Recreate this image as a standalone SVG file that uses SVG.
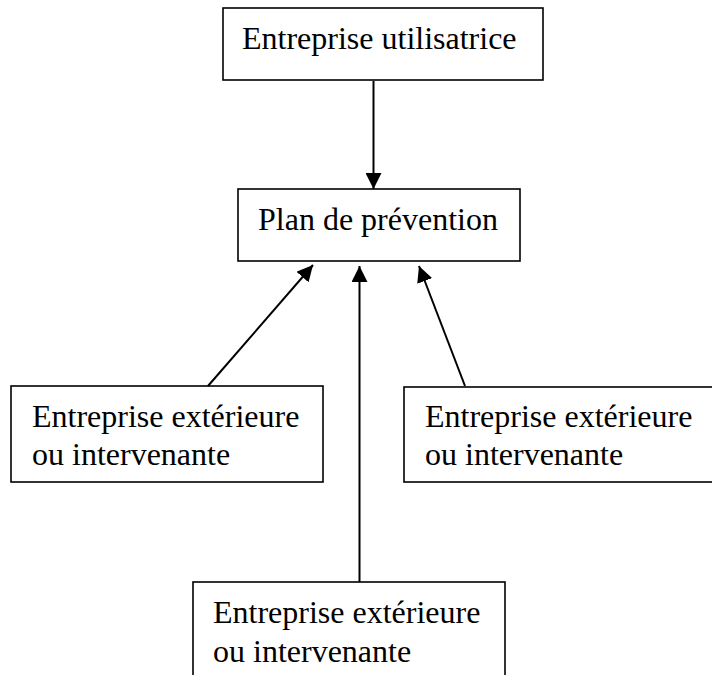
<svg xmlns="http://www.w3.org/2000/svg" width="712" height="675" viewBox="0 0 712 675">
<style>
.box{fill:#fff;stroke:#000;stroke-width:1.6}
.lbl{font-family:"Liberation Serif","Times New Roman",serif;font-size:32px;fill:#000}
.con{stroke:#000;stroke-width:2;fill:none}
</style>
<defs>
<marker id="ah" markerUnits="userSpaceOnUse" markerWidth="16" markerHeight="16" viewBox="0 0 16 16" refX="16" refY="8" orient="auto">
<path d="M0,0 L16,8 L0,16 Z" fill="#000"/>
</marker>
</defs>
<rect width="712" height="675" fill="#fff"/>
<g id="n-utilisatrice">
<rect class="box" x="223" y="8" width="320" height="72"/>
<text class="lbl" x="242" y="49">Entreprise utilisatrice</text>
</g>
<g id="n-plan">
<rect class="box" x="238" y="189" width="282" height="72"/>
<text class="lbl" x="258" y="230">Plan de prévention</text>
</g>
<g id="n-ext-left">
<rect class="box" x="11" y="386" width="312" height="96"/>
<text class="lbl" x="32" y="427">Entreprise extérieure</text>
<text class="lbl" x="32" y="465">ou intervenante</text>
</g>
<g id="n-ext-right">
<rect class="box" x="404" y="387" width="312" height="95"/>
<text class="lbl" x="425" y="427">Entreprise extérieure</text>
<text class="lbl" x="425" y="465">ou intervenante</text>
</g>
<g id="n-ext-bottom">
<rect class="box" x="193" y="582" width="312" height="100"/>
<text class="lbl" x="213" y="623">Entreprise extérieure</text>
<text class="lbl" x="213" y="662">ou intervenante</text>
</g>
<g id="connectors">
<line class="con" x1="373.5" y1="81" x2="373.5" y2="189" marker-end="url(#ah)"/>
<line class="con" x1="208" y1="386" x2="313" y2="265" marker-end="url(#ah)"/>
<line class="con" x1="359.5" y1="582" x2="359.5" y2="266" marker-end="url(#ah)"/>
<line class="con" x1="465" y1="386" x2="419" y2="266" marker-end="url(#ah)"/>
</g>
</svg>
